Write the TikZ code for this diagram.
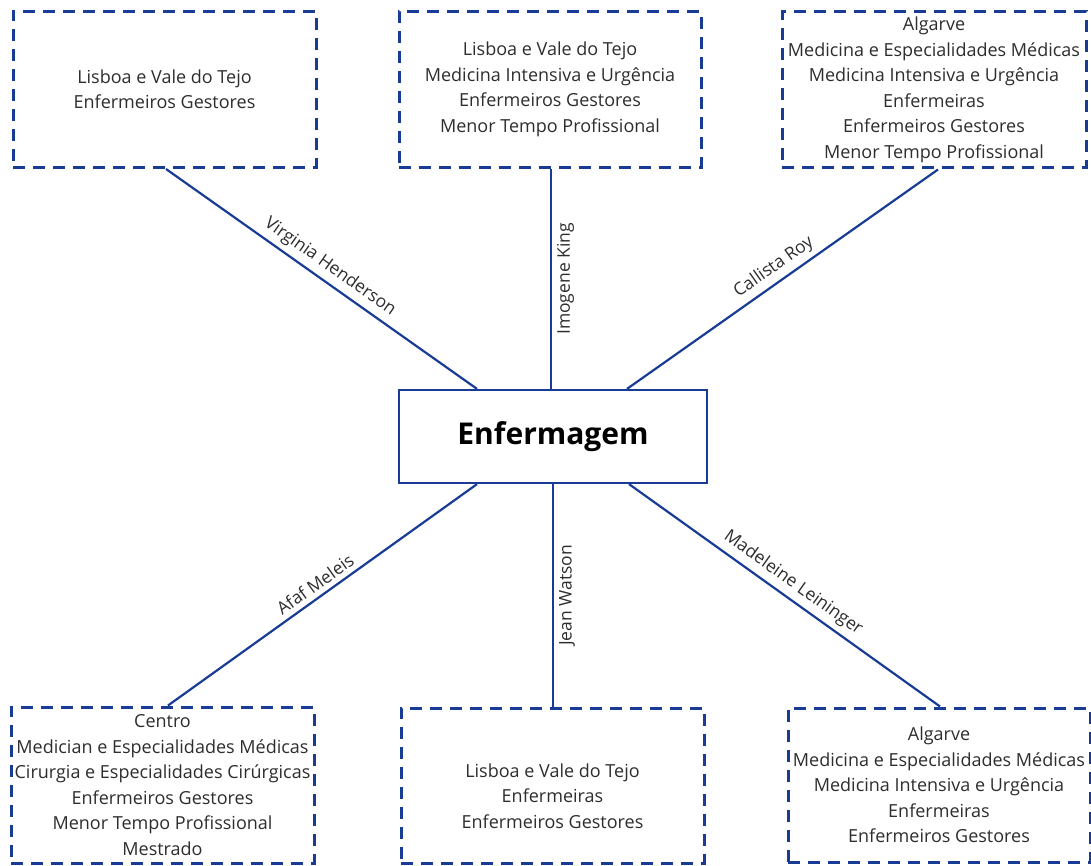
\documentclass[tikz,border=0pt]{standalone}
\usepackage{fontspec}
\setmainfont{Open Sans}
\usetikzlibrary{calc}
\definecolor{nblue}{RGB}{24,60,150}
\definecolor{ntext}{RGB}{45,45,45}
\begin{document}
\begin{tikzpicture}[x=1pt,y=1pt,
  dbox/.style={draw=nblue, line width=3pt, dash pattern=on 12pt off 8pt, minimum width=303pt, minimum height=156pt, inner sep=0pt, align=center, text=ntext, font=\fontsize{18}{25.5}\selectfont},
  txt/.style={align=center, text=ntext, font=\fontsize{18}{25.5}\selectfont},
  cbox/.style={draw=nblue, line width=2.2pt, minimum width=308pt, minimum height=93pt, inner sep=0pt, text=black, font=\fontsize{30}{36}\selectfont\bfseries},
  link/.style={draw=nblue, line width=2.2pt},
  lab/.style={sloped, text=ntext, font=\fontsize{17.5}{20}\selectfont, inner sep=5pt}]
\useasboundingbox (0,0) rectangle (1091,-866);
\node[cbox] (c) at (553,-436.5) {Enfermagem};
\node[dbox] (tl) at (164.5,-89.5) {Lisboa e Vale do Tejo\\Enfermeiros Gestores};
\node[dbox, minimum width=302pt] (tm) at (550,-89.5) {Lisboa e Vale do Tejo\\Medicina Intensiva e Urgência\\Enfermeiros Gestores\\Menor Tempo Profissional};
\node[dbox, minimum width=304pt] (tr) at (934,-90) {Algarve\\Medicina e Especialidades Médicas\\Medicina Intensiva e Urgência\\Enfermeiras\\Enfermeiros Gestores\\Menor Tempo Profissional};
\node[dbox] (bl) at (162.5,-785) {Centro\\Medician e Especialidades Médicas\\Cirurgia e Especialidades Cirúrgicas\\Enfermeiros Gestores\\Menor Tempo Profissional\\Mestrado};
\node[dbox, minimum height=155pt] (bm) at (552.5,-785.5) {};
\node[txt] (bmt) at ([yshift=-10.5pt]bm.center) {Lisboa e Vale do Tejo\\Enfermeiras\\Enfermeiros Gestores};
\node[dbox, minimum width=302pt, minimum height=154pt] (br) at (939,-785) {Algarve\\Medicina e Especialidades Médicas\\Medicina Intensiva e Urgência\\Enfermeiras\\Enfermeiros Gestores};
% connectors
\draw[link] ([xshift=1.5pt]tl.south) -- node[lab, above] {Virginia Henderson} ([xshift=-76pt]c.north);
\draw[link] ([xshift=-2pt]c.north) -- node[lab, below] {Imogene King} ([xshift=1pt]tm.south);
\draw[link] ([xshift=74pt]c.north) -- node[lab, above] {Callista Roy} ([xshift=4pt]tr.south);
\draw[link] ([xshift=5.5pt]bl.north) -- node[lab, above] {Afaf Meleis} ([xshift=-76pt]c.south);
\draw[link] ([xshift=0.5pt]bm.north) -- node[lab, below] {Jean Watson} (c.south);
\draw[link] ([xshift=76pt]c.south) -- node[lab, above] {Madeleine Leininger} ([xshift=1pt]br.north);
\end{tikzpicture}
\end{document}
